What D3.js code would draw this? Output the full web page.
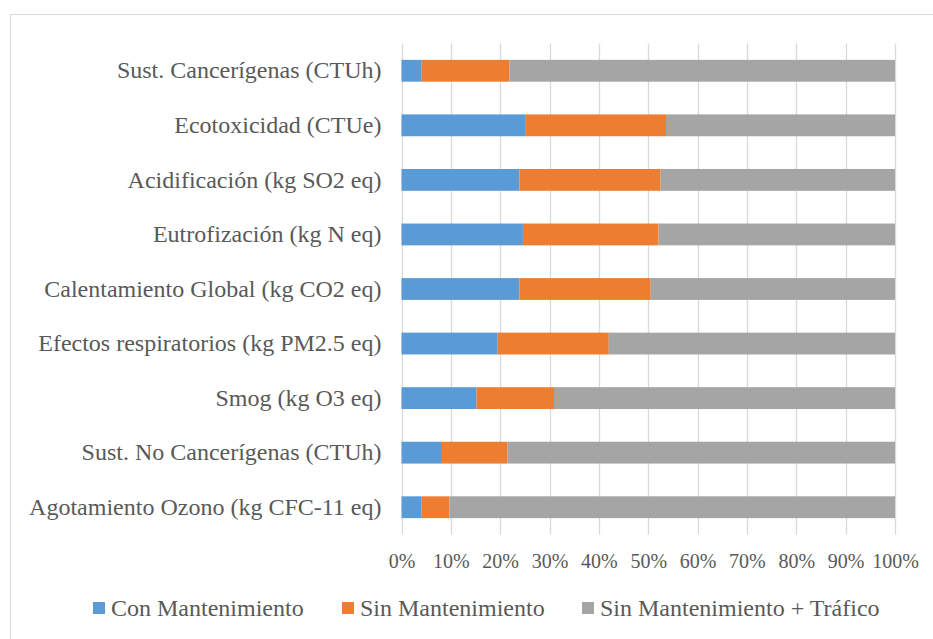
<!DOCTYPE html>
<html>
<head>
<meta charset="utf-8">
<script src="https://cdn.jsdelivr.net/npm/d3@7"></script>
<style>
  html, body { margin: 0; padding: 0; background: #fff; }
  svg { display: block; }
  text { font-family: "Liberation Serif", "Times New Roman", serif; fill: #595959; }
</style>
</head>
<body>
<svg id="chart" width="933" height="639"></svg>
<script>
// Impact categories, top to bottom
const categories = [
  "Sust. Cancerígenas (CTUh)",
  "Ecotoxicidad (CTUe)",
  "Acidificación (kg SO2 eq)",
  "Eutrofización (kg N eq)",
  "Calentamiento Global (kg CO2 eq)",
  "Efectos respiratorios (kg PM2.5 eq)",
  "Smog (kg O3 eq)",
  "Sust. No Cancerígenas (CTUh)",
  "Agotamiento Ozono (kg CFC-11 eq)"
];

// Share of each scenario (%), same order as categories
const conMantenimiento = [4.1, 25.2, 23.9, 24.6, 23.9, 19.5, 15.2, 8.2, 4.0];
const sinMantenimiento = [17.8, 28.4, 28.6, 27.5, 26.6, 22.5, 15.7, 13.3, 5.7];
const sinMantTrafico   = [78.1, 46.4, 47.5, 47.9, 49.5, 58.0, 69.1, 78.5, 90.3];

const seriesNames = ["Con Mantenimiento", "Sin Mantenimiento", "Sin Mantenimiento + Tráfico"];
const seriesColors = ["#5b9bd5", "#ed7d31", "#a5a5a5"];
const tickValues = [0, 10, 20, 30, 40, 50, 60, 70, 80, 90, 100];

const rows = categories.map((c, i) => ({
  cat: c,
  s0: conMantenimiento[i],
  s1: sinMantenimiento[i],
  s2: sinMantTrafico[i]
}));
// normalise each row to 100 %
rows.forEach(r => {
  const t = r.s0 + r.s1 + r.s2;
  r.s0 = r.s0 / t * 100; r.s1 = r.s1 / t * 100; r.s2 = r.s2 / t * 100;
});

const svg = d3.select("#chart");

// chart frame
svg.append("rect")
  .attr("x", 10.5).attr("y", 14.5)
  .attr("width", 940).attr("height", 640)
  .attr("fill", "none").attr("stroke", "#d9d9d9").attr("stroke-width", 1);

const x = d3.scaleLinear().domain([0, 100]).range([401.5, 895]);
const y = d3.scaleBand().domain(categories).range([43.5, 534.5]).paddingInner(0.6).paddingOuter(0.3);

// vertical gridlines
svg.append("g")
  .selectAll("line")
  .data(tickValues)
  .join("line")
  .attr("x1", d => Math.round(x(d)) + 0.5)
  .attr("x2", d => Math.round(x(d)) + 0.5)
  .attr("y1", 43.5).attr("y2", 534.5)
  .attr("stroke", "#d9d9d9").attr("stroke-width", 1.3);

// stacked bars
const stack = d3.stack().keys(["s0", "s1", "s2"]);
const layers = stack(rows);

svg.append("g")
  .selectAll("g")
  .data(layers)
  .join("g")
  .attr("fill", (d, i) => seriesColors[i])
  .selectAll("rect")
  .data(d => d)
  .join("rect")
  .attr("x", d => x(d[0]))
  .attr("width", d => x(d[1]) - x(d[0]))
  .attr("y", d => y(d.data.cat))
  .attr("height", y.bandwidth());

// category labels
const yAxis = d3.axisLeft(y).tickSize(0).tickPadding(20);
const gy = svg.append("g").attr("transform", `translate(${x(0)},0)`).call(yAxis);
gy.select(".domain").remove();
gy.selectAll("text")
  .attr("font-size", "24px")
  .style("font-family", "'Liberation Serif', serif")
  .attr("fill", "#595959");

// percentage axis
const xAxis = d3.axisBottom(x).tickValues(tickValues).tickFormat(d => d + "%").tickSize(0).tickPadding(0);
const gx = svg.append("g").attr("transform", "translate(0,561)").call(xAxis);
gx.select(".domain").remove();
gx.selectAll("text")
  .attr("font-size", "20px")
  .attr("y", 0)
  .attr("dy", "0.35em")
  .style("font-family", "'Liberation Serif', serif")
  .attr("fill", "#595959");

// legend
const legendX = [93, 342, 582];
const legend = svg.append("g").attr("transform", "translate(0,608)");
seriesNames.forEach((name, i) => {
  legend.append("rect")
    .attr("x", legendX[i]).attr("y", -6)
    .attr("width", 12).attr("height", 12)
    .attr("fill", seriesColors[i]);
  legend.append("text")
    .attr("x", legendX[i] + 18).attr("y", 0)
    .attr("dy", "0.35em")
    .attr("font-size", "24px")
    .text(name);
});
</script>
</body>
</html>
